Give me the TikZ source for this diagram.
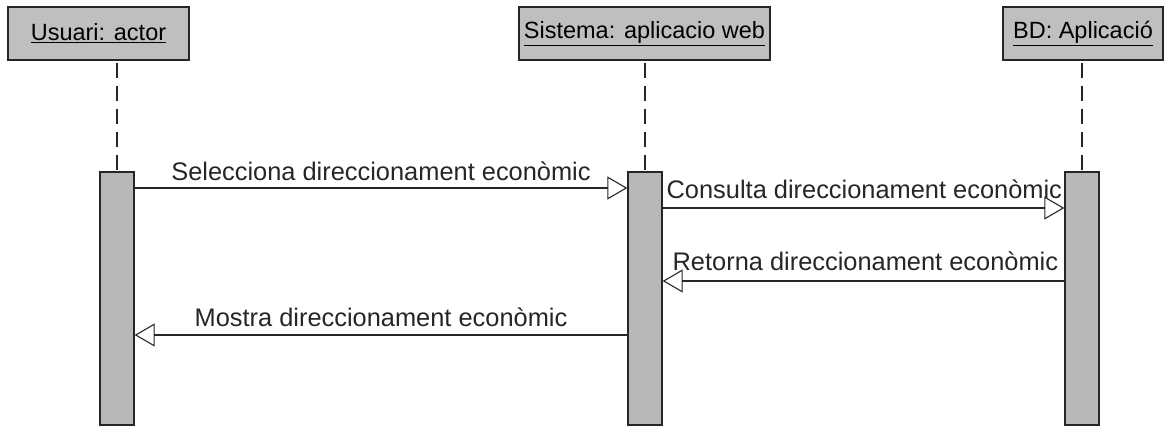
\documentclass[tikz,border=0pt]{standalone}
\usepackage{fontspec}
\setmainfont{Liberation Sans}
\usetikzlibrary{arrows.meta}

\begin{document}
\begin{tikzpicture}[x=1pt,y=-1pt,line width=1.3pt,
    obj/.style={draw=black!85,fill=black!25,minimum height=53pt,inner sep=0pt,font=\fontsize{23.5}{28}\selectfont},
    bar/.style={draw=black!85,fill=black!28,minimum width=34pt,minimum height=253pt,inner sep=0pt},
    life/.style={black!85,dash pattern=on 15pt off 8pt,dash phase=-2pt},
    msg/.style={black!85,-{Triangle[open,length=20pt,width=23pt]},line width=1.1pt},
    lbl/.style={black!85,font=\fontsize{25.4}{30}\selectfont,inner sep=0pt}]

    \useasboundingbox (0,0) rectangle (1171,428);

    % objects
    \node[obj, minimum width=181pt] (1) at (98.5,33.5) {\underline{Usuari: actor}};
    \node[obj, minimum width=251pt] (2) at (644.5,33.5) {\underline{Sistema: aplicacio web}};
    \node[obj, minimum width=160pt] (3) at (1083,33.5) {\underline{BD: Aplicació}};

    % activations
    \node[bar] (b1) at (117,298.5) {};
    \node[bar] (b2) at (645,298.5) {};
    \node[bar] (b3) at (1082,298.5) {};

    \draw[life] (1.south -| b1) -- (b1.north);
    \draw[life] (2.south -| b2) -- (b2.north);
    \draw[life] (3.south -| b3) -- (b3.north);

    % messages
    \draw[msg] (b1.east |- 0,188) -- node[lbl,above=7pt] (m1) {Selecciona direccionament econòmic} (b2.west |- 0,188);
    \draw[msg] (b2.east |- 0,208) -- (b3.west |- 0,208);
    \node[lbl,anchor=base west] (m2) at (666,198) {Consulta direccionament econòmic};
    \draw[msg] (b3.west |- 0,281) -- (b2.east |- 0,281);
    \node[lbl,anchor=base west] (m3) at (672,270) {Retorna direccionament econòmic};
    \draw[msg] (b2.west |- 0,335) -- node[lbl,above=8pt] (m4) {Mostra direccionament econòmic} (b1.east |- 0,335);

\end{tikzpicture}
\end{document}
